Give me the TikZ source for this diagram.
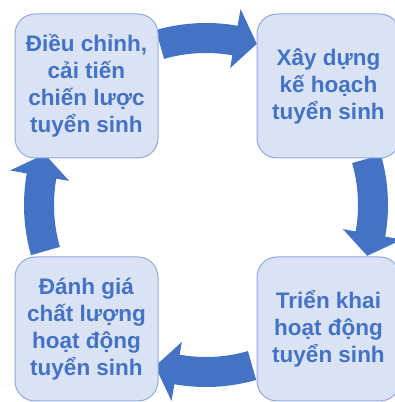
\documentclass[tikz,border=0pt]{standalone}
\usepackage{fontspec}
\setmainfont{Liberation Sans}
\usetikzlibrary{calc}
\definecolor{boxfill}{HTML}{DAE3F3}
\definecolor{boxline}{HTML}{8FAADC}
\definecolor{accent}{HTML}{4472C4}
\begin{document}
\begin{tikzpicture}[x=1pt,y=1pt,
  stagebox/.style={draw=boxline, line width=1pt, fill=boxfill, rounded corners=20pt,
    minimum width=143pt, minimum height=144pt, text=accent, align=center,
    font=\fontsize{22.5}{27}\selectfont\bfseries, inner sep=0pt},
  blockarrow/.style={fill=accent, draw=none}]
\useasboundingbox (0,0) rectangle (394,402);
\coordinate (C) at (206,197);
\foreach \r in {0,-90,-180,-270} {
  \fill[blockarrow, shift={(C)}, rotate=\r]
    (106:182pt) arc[start angle=106, end angle=80, radius=182pt]
    -- (80:199pt) -- (72.5:169pt) -- (80:139pt) -- (80:152pt)
    arc[start angle=80, end angle=106, radius=152pt] -- cycle;
}
\node[stagebox] (adjust) at (86.5,316) {Điều chỉnh,\\cải tiến\\chiến lược\\tuyển sinh};
\node[stagebox] (plan) at (328.5,316) {Xây dựng\\kế hoạch\\tuyển sinh};
\node[stagebox] (impl) at (328.5,73) {Triển khai\\hoạt động\\tuyển sinh};
\node[stagebox] (eval) at (86.5,73) {Đánh giá\\chất lượng\\hoạt động\\tuyển sinh};
\end{tikzpicture}
\end{document}
